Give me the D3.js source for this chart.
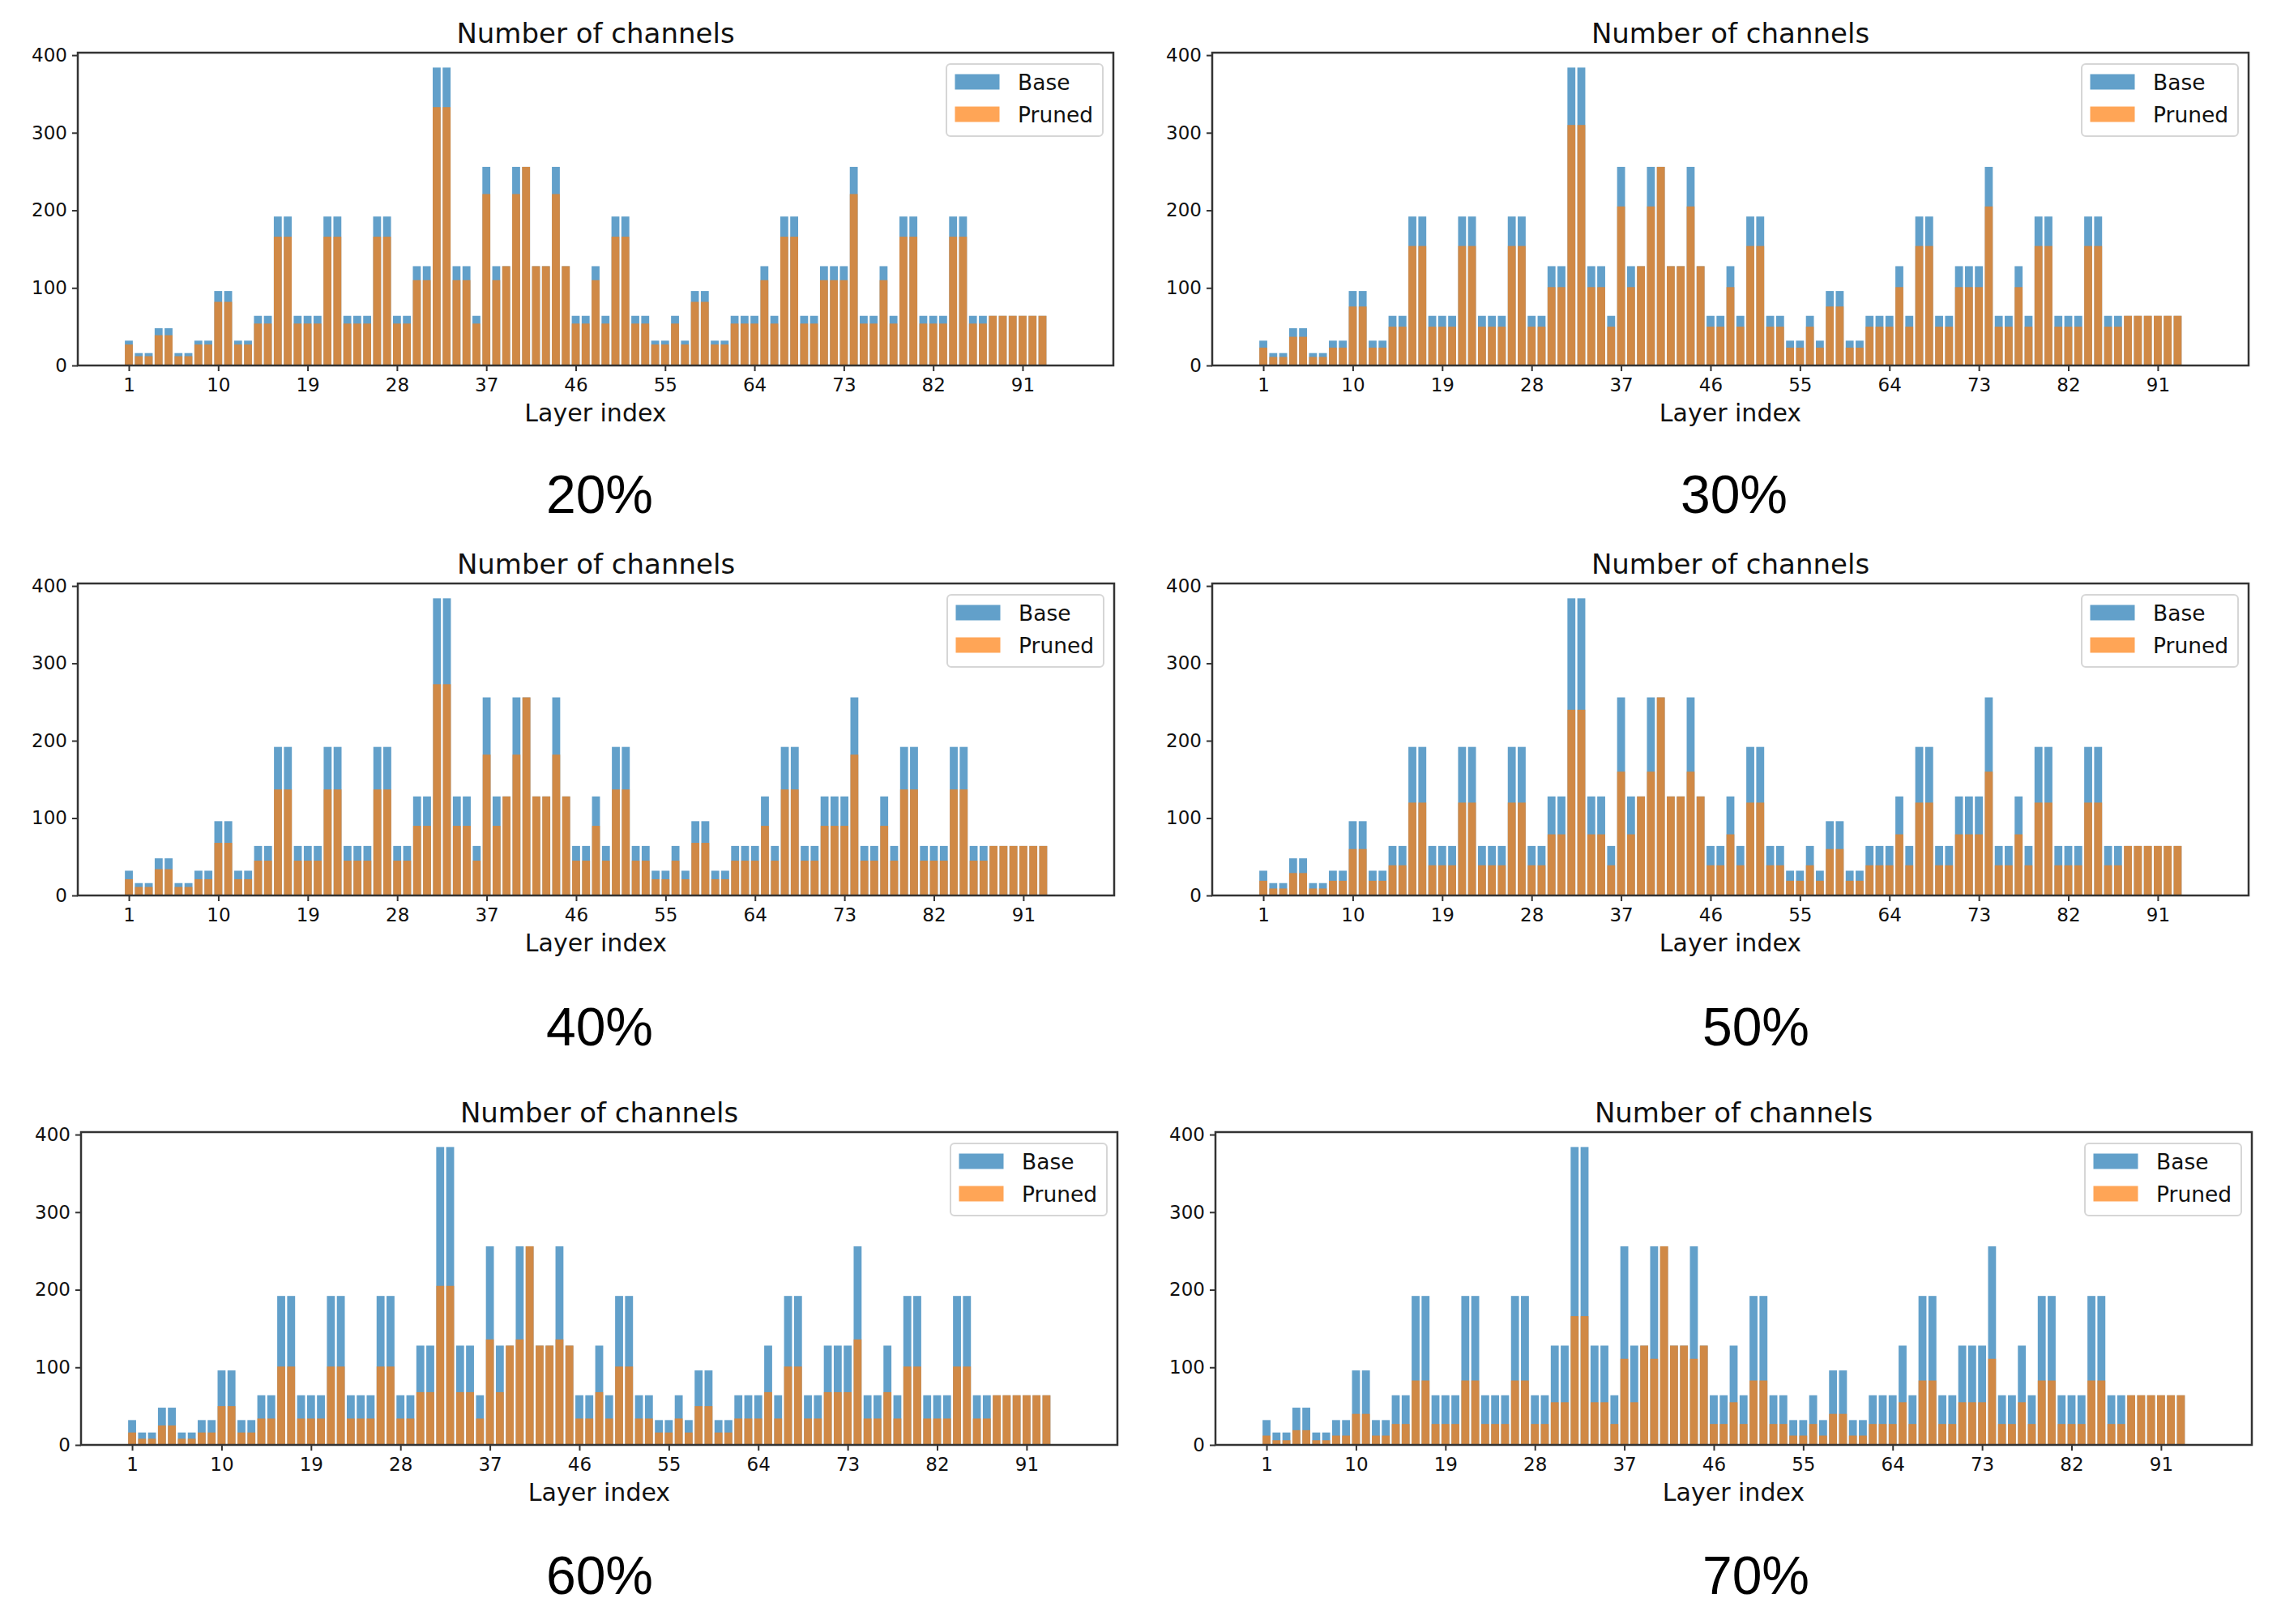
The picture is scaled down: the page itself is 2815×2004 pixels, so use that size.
<!DOCTYPE html>
<html>
<head>
<meta charset="utf-8">
<script src="https://cdn.jsdelivr.net/npm/d3@7"></script>
<style>
  html, body { margin: 0; padding: 0; background: #ffffff; }
  svg { display: block; }
</style>
</head>
<body>
<div id="chart"></div>
<script>
// ---------------- data ----------------
const layers = d3.range(1, 96);           // layer index 1..95
const xTicks = [1, 10, 19, 28, 37, 46, 55, 64, 73, 82, 91];
const yTicks = [0, 100, 200, 300, 400];
const seriesNames = ["Base", "Pruned"];
const ratioLabels = ["20%", "30%", "40%", "50%", "60%", "70%"];

const base = [
  32,16,16,48,48,16,16,32,32,96,
  96,32,32,64,64,192,192,64,64,64,
  192,192,64,64,64,192,192,64,64,128,
  128,384,384,128,128,64,256,128,128,256,
  256,128,128,256,128,64,64,128,64,192,
  192,64,64,32,32,64,32,96,96,32,
  32,64,64,64,128,64,192,192,64,64,
  128,128,128,256,64,64,128,64,192,192,
  64,64,64,192,192,64,64,64,64,64,
  64,64,64,1,1
];
const pruned20 = [
  27,12,12,39,39,12,12,27,27,82,
  82,27,27,54,54,166,166,54,54,54,
  166,166,54,54,54,166,166,54,54,110,
  110,333,333,110,110,54,221,110,128,221,
  256,128,128,221,128,54,54,110,54,166,
  166,54,54,27,27,54,27,82,82,27,
  27,54,54,54,110,54,166,166,54,54,
  110,110,110,221,54,54,110,54,166,166,
  54,54,54,166,166,54,54,64,64,64,
  64,64,64,1,1
];
const pruned30 = [
  23,11,11,37,37,11,11,23,23,76,
  76,23,23,50,50,154,154,50,50,50,
  154,154,50,50,50,154,154,50,50,101,
  101,310,310,101,101,50,205,101,128,205,
  256,128,128,205,128,50,50,101,50,154,
  154,50,50,23,23,50,23,76,76,23,
  23,50,50,50,101,50,154,154,50,50,
  101,101,101,205,50,50,101,50,154,154,
  50,50,50,154,154,50,50,64,64,64,
  64,64,64,1,1
];
const pruned40 = [
  21,11,11,34,34,11,11,21,21,68,
  68,21,21,45,45,137,137,45,45,45,
  137,137,45,45,45,137,137,45,45,90,
  90,273,273,90,90,45,182,90,128,182,
  256,128,128,182,128,45,45,90,45,137,
  137,45,45,21,21,45,21,68,68,21,
  21,45,45,45,90,45,137,137,45,45,
  90,90,90,182,45,45,90,45,137,137,
  45,45,45,137,137,45,45,64,64,64,
  64,64,64,1,1
];
const pruned50 = [
  19,9,9,29,29,9,9,19,19,60,
  60,19,19,39,39,120,120,39,39,39,
  120,120,39,39,39,120,120,39,39,79,
  79,240,240,79,79,39,160,79,128,160,
  256,128,128,160,128,39,39,79,39,120,
  120,39,39,19,19,39,19,60,60,19,
  19,39,39,39,79,39,120,120,39,39,
  79,79,79,160,39,39,79,39,120,120,
  39,39,39,120,120,39,39,64,64,64,
  64,64,64,1,1
];
const pruned60 = [
  16,8,8,25,25,8,8,16,16,50,
  50,16,16,34,34,101,101,34,34,34,
  101,101,34,34,34,101,101,34,34,68,
  68,205,205,68,68,34,136,68,128,136,
  256,128,128,136,128,34,34,68,34,101,
  101,34,34,16,16,34,16,50,50,16,
  16,34,34,34,68,34,101,101,34,34,
  68,68,68,136,34,34,68,34,101,101,
  34,34,34,101,101,34,34,64,64,64,
  64,64,64,1,1
];
const pruned70 = [
  12,6,6,19,19,6,6,12,12,40,
  40,12,12,27,27,83,83,27,27,27,
  83,83,27,27,27,83,83,27,27,55,
  55,166,166,55,55,27,111,55,128,111,
  256,128,128,111,128,27,27,55,27,83,
  83,27,27,12,12,27,12,40,40,12,
  12,27,27,27,55,27,83,83,27,27,
  55,55,55,111,27,27,55,27,83,83,
  27,27,27,83,83,27,27,64,64,64,
  64,64,64,1,1
];
const prunedSets = [pruned20, pruned30, pruned40, pruned50, pruned60, pruned70];

// ---------------- layout ----------------
const W = 2815, H = 2004;
const panels = [
  {left: 96,   right: 1374, top: 65,   bottom: 451,  lx: 740,  ly: 633},
  {left: 1496, right: 2775, top: 65,   bottom: 451,  lx: 2140, ly: 633},
  {left: 96,   right: 1375, top: 720,  bottom: 1105, lx: 740,  ly: 1290},
  {left: 1496, right: 2775, top: 720,  bottom: 1105, lx: 2167, ly: 1290},
  {left: 100,  right: 1379, top: 1397, bottom: 1783, lx: 740,  ly: 1967},
  {left: 1500, right: 2779, top: 1397, bottom: 1783, lx: 2167, ly: 1967}
];
const colors = {base: "#1f77b4", pruned: "#ff7f0e"};
const font = "'DejaVu Sans', sans-serif";
const textColor = "#111";

const svg = d3.select("#chart").append("svg")
  .attr("width", W).attr("height", H)
  .attr("viewBox", `0 0 ${W} ${H}`);
svg.append("rect").attr("width", W).attr("height", H).attr("fill", "#fff");

const n = layers.length;
const xPad = 0.05 * ((n + 0.4) - (1 - 0.4));
const xDomain = [1 - 0.4 - xPad, n + 0.4 + xPad];
const yMax = d3.max(base) * 1.05;

panels.forEach((p, k) => {
  const g = svg.append("g");
  const x = d3.scaleLinear().domain(xDomain).range([p.left, p.right]);
  const y = d3.scaleLinear().domain([0, yMax]).range([p.bottom, p.top]);
  const pr = prunedSets[k];

  const rows = layers.map((l, i) => ({l, b: base[i], p: pr[i]}));

  // base bars
  g.append("g").selectAll("rect").data(rows).join("rect")
    .attr("x", d => x(d.l - 0.4))
    .attr("width", d => x(d.l + 0.4) - x(d.l - 0.4))
    .attr("y", d => y(d.b))
    .attr("height", d => y(0) - y(d.b))
    .attr("fill", colors.base).attr("fill-opacity", 0.7);
  // pruned bars
  g.append("g").selectAll("rect").data(rows).join("rect")
    .attr("x", d => x(d.l - 0.4))
    .attr("width", d => x(d.l + 0.4) - x(d.l - 0.4))
    .attr("y", d => y(d.p))
    .attr("height", d => y(0) - y(d.p))
    .attr("fill", colors.pruned).attr("fill-opacity", 0.7);

  // axes
  const xa = g.append("g").attr("transform", `translate(0,${p.bottom})`)
    .call(d3.axisBottom(x).tickValues(xTicks).tickSize(7).tickPadding(9).tickFormat(d3.format("d")));
  const ya = g.append("g").attr("transform", `translate(${p.left},0)`)
    .call(d3.axisLeft(y).tickValues(yTicks).tickSize(7).tickPadding(6).tickFormat(d3.format("d")));
  [xa, ya].forEach(a => {
    a.select(".domain").remove();
    a.selectAll(".tick line").attr("stroke", "#333").attr("stroke-width", 2);
    a.selectAll(".tick text").attr("fill", textColor)
      .style("font-family", font).style("font-size", "23px");
  });

  // frame
  g.append("rect")
    .attr("x", p.left).attr("y", p.top)
    .attr("width", p.right - p.left).attr("height", p.bottom - p.top)
    .attr("fill", "none").attr("stroke", "#333").attr("stroke-width", 2.5);

  // title
  g.append("text")
    .attr("x", (p.left + p.right) / 2).attr("y", p.top - 12)
    .attr("text-anchor", "middle").attr("fill", textColor)
    .style("font-family", font).style("font-size", "34px")
    .text("Number of channels");

  // x label
  g.append("text")
    .attr("x", (p.left + p.right) / 2).attr("y", p.bottom + 69)
    .attr("text-anchor", "middle").attr("fill", textColor)
    .style("font-family", font).style("font-size", "30px")
    .text("Layer index");

  // legend
  const lw = 193, lh = 89;
  const lxp = p.right - 13 - lw, lyp = p.top + 14;
  const lg = g.append("g").attr("transform", `translate(${lxp},${lyp})`);
  lg.append("rect").attr("width", lw).attr("height", lh).attr("rx", 5)
    .attr("fill", "#fff").attr("fill-opacity", 0.8)
    .attr("stroke", "#d6d6d6").attr("stroke-width", 2);
  seriesNames.forEach((s, j) => {
    lg.append("rect").attr("x", 10.5).attr("y", 12.5 + j * 40)
      .attr("width", 55).attr("height", 19)
      .attr("fill", j === 0 ? colors.base : colors.pruned).attr("fill-opacity", 0.7);
    lg.append("text").attr("x", 88).attr("y", 31.5 + j * 40)
      .attr("fill", textColor)
      .style("font-family", font).style("font-size", "26.5px")
      .text(s);
  });

  // percentage label
  svg.append("text")
    .attr("x", p.lx).attr("y", p.ly)
    .attr("text-anchor", "middle").attr("fill", "#000")
    .style("font-family", "'Liberation Sans', Arial, sans-serif").style("font-size", "66px")
    .text(ratioLabels[k]);
});
</script>
</body>
</html>
